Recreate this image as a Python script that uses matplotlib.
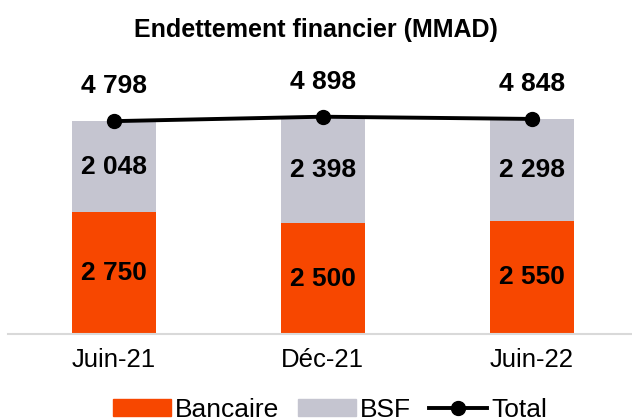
import numpy as np
import matplotlib.pyplot as plt
from matplotlib.patches import Patch
from matplotlib.lines import Line2D

plt.rcParams['font.family'] = ['Liberation Sans', 'DejaVu Sans']

# data
periods = ['Juin-21', 'Déc-21', 'Juin-22']
bancaire = [2750, 2500, 2550]
bsf = [2048, 2398, 2298]
total = [4798, 4898, 4848]

orange = '#F74700'
grey = '#C5C5D0'


def fmt(v):
    return f'{v:,}'.replace(',', ' ')


fig = plt.figure(figsize=(6.32, 4.2), dpi=100)
ax = fig.add_axes([8 / 632, 86 / 420, 624 / 632, 244 / 420])

x = np.arange(len(periods))
w = 0.4
ax.bar(x, bancaire, w, color=orange, zorder=2)
ax.bar(x, bsf, w, bottom=bancaire, color=grey, zorder=2)
ax.plot(x, total, color='black', lw=2.8, marker='o', ms=10, zorder=3)

for i in range(len(periods)):
    ax.text(x[i], bancaire[i] / 2, fmt(bancaire[i]), ha='center', va='center',
            fontsize=19, fontweight='bold')
    ax.text(x[i], bancaire[i] + bsf[i] / 2, fmt(bsf[i]), ha='center', va='center',
            fontsize=19, fontweight='bold')
    ax.annotate(fmt(total[i]), (x[i], total[i]), xytext=(0, 25),
                textcoords='offset points', ha='center', va='center',
                fontsize=19, fontweight='bold')

ax.set_xlim(-0.507, 2.48)
ax.set_ylim(0, 5500)
ax.set_yticks([])
ax.set_xticks(x)
ax.set_xticklabels(periods, fontsize=18.5)
ax.tick_params(axis='x', length=0, pad=10)
for s in ['top', 'right', 'left']:
    ax.spines[s].set_visible(False)
ax.spines['bottom'].set_color('#D9D9D9')
ax.spines['bottom'].set_linewidth(1.5)

fig.text(0.5, 1 - 30 / 420, 'Endettement financier (MMAD)', ha='center', va='center',
         fontsize=18, fontweight='bold')

handles = [Patch(color=orange, label='Bancaire'),
           Patch(color=grey, label='BSF'),
           Line2D([], [], color='black', lw=2.8, marker='o', ms=10, label='Total')]
fig.legend(handles=handles, loc='center', bbox_to_anchor=(0.522, 1 - 410 / 420), ncol=3,
           frameon=False, fontsize=19, handlelength=2.2, handleheight=0.6,
           handletextpad=0.15, columnspacing=0.7)

fig.savefig('out.png', dpi=100)
